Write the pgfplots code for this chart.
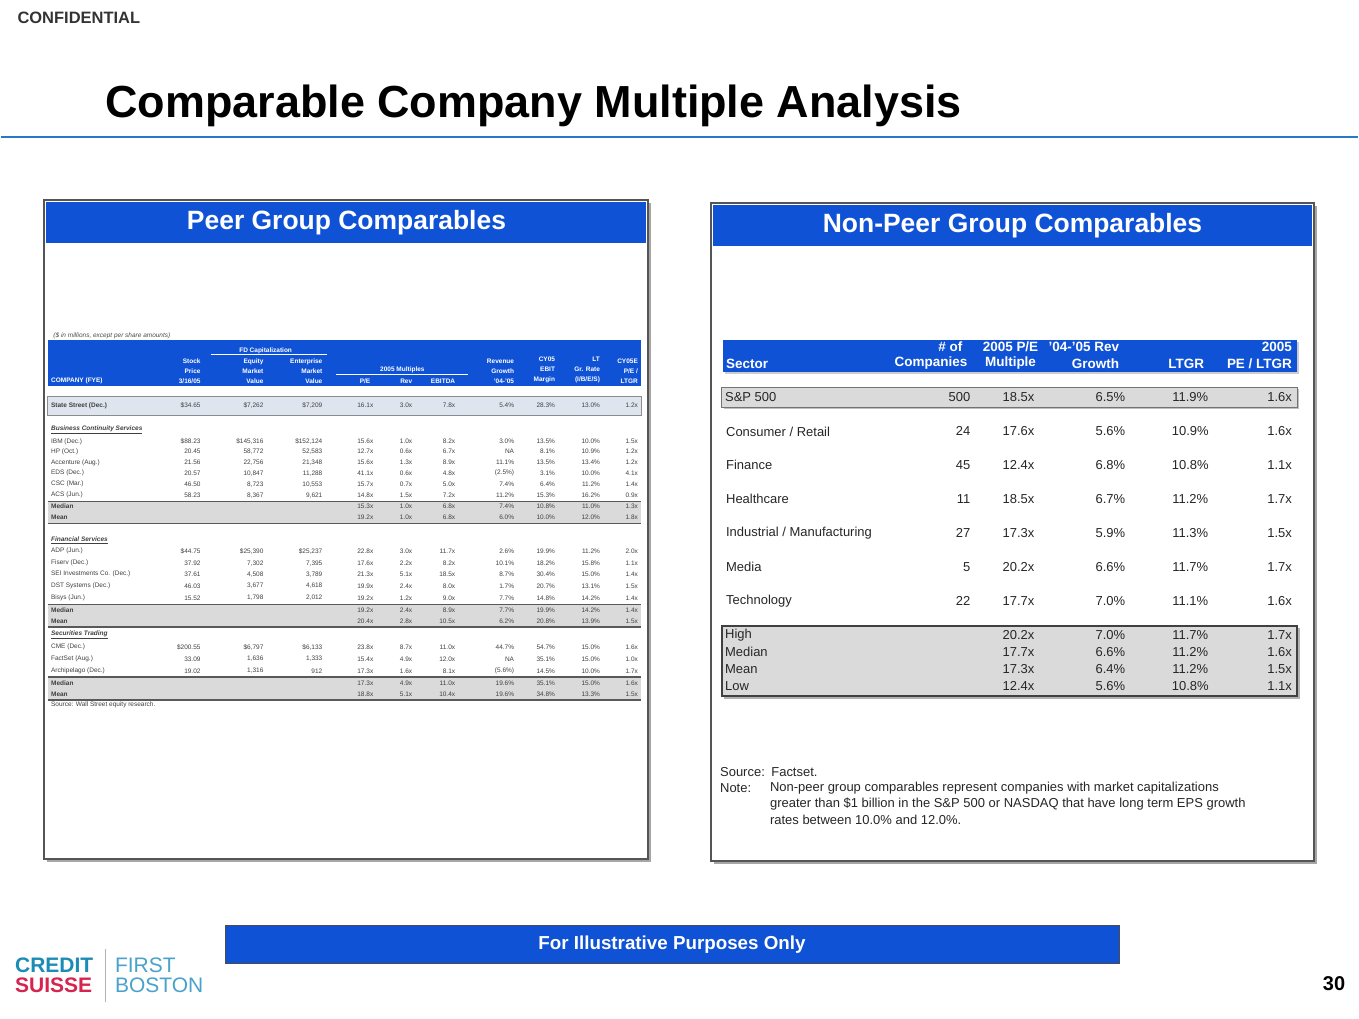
\documentclass[border=0pt]{standalone}
\usepackage{fontspec}
\setmainfont{Liberation Sans}
\usepackage{pgfplots}
\pgfplotsset{compat=1.18}
\definecolor{hdr}{RGB}{16,82,214}
\definecolor{rulec}{RGB}{40,120,200}
\definecolor{framec}{RGB}{85,85,85}
\definecolor{lgray}{RGB}{218,218,218}
\definecolor{tgt}{RGB}{222,229,238}
\definecolor{csblue}{RGB}{28,140,182}
\definecolor{csred}{RGB}{214,36,78}
\definecolor{fbblue}{RGB}{72,162,204}
\newcommand\fs[1]{\fontsize{#1}{#1}\selectfont}
\protected\def\D{\$}
\protected\def\P{\%}
\pgfplotsset{
  /pgf/number format/assume math mode=true,
  lcol/.style={draw=none, mark=none, nodes near coords={\pgfplotspointmeta}, point meta=explicit symbolic,
    every node near coord/.append style={anchor=east, inner sep=0pt, font=\fs{6.5}, text=black!75}},
  rcol/.style={draw=none, mark=none, point meta=explicit,
    every node near coord/.append style={anchor=#1, inner sep=0pt, font=\fs{13}, text=black!85}},
  fx/.style={nodes near coords={\pgfmathprintnumber[fixed,fixed zerofill,precision=1]{\pgfplotspointmeta}x}},
  fp/.style={nodes near coords={\pgfmathprintnumber[fixed,fixed zerofill,precision=1]{\pgfplotspointmeta}\%}},
  fi/.style={nodes near coords={\pgfmathprintnumber[fixed,precision=0]{\pgfplotspointmeta}}},
}
\begin{document}
\begin{tikzpicture}
\begin{axis}[x=1pt, y=1pt, xmin=0, xmax=1359, ymin=0, ymax=1020, y dir=reverse,
  hide axis, clip=false, enlargelimits=false]
% page
\fill[white] (0,0) rectangle (1359,1020);
\node[anchor=west, font=\fs{16.5}\bfseries, text=black!80] at (13,18) {CONFIDENTIAL};
\node[anchor=base west, font=\fs{45}\bfseries] at (101,118) {Comparable Company Multiple Analysis};
\draw[rulec, line width=2pt] (0,137) -- (1359,137);

% panels
\fill[black!35] (46,203) rectangle (651,863);
\filldraw[fill=white, draw=framec, line width=2pt] (43,200) rectangle (648,860);
\fill[hdr] (45,202) rectangle (646,243);
\node[font=\fs{26.5}\bfseries, text=white] at (346,223) {Peer Group Comparables};
\fill[black!35] (714,206) rectangle (1318,865);
\filldraw[fill=white, draw=framec, line width=2pt] (711,203) rectangle (1315,862);
\fill[hdr] (713,205) rectangle (1313,246);
\node[font=\fs{26.5}\bfseries, text=white] at (1013,226) {Non-Peer Group Comparables};

% ---------------- left table ----------------
\node[anchor=west, font=\fs{6.5}\itshape, text=black!70] at (49,336) {(\$ in millions, except per share amounts)};
\fill[hdr] (47,340) rectangle (641,387);
\begin{scope}[every node/.style={inner sep=0pt, font=\fontsize{6.5}{10}\selectfont\bfseries, text=white, align=right}]
\node[anchor=west] at (50,381) {COMPANY (FYE)};
\node[anchor=south east] at (200,384) {Stock\\Price\\3/16/05};
\node at (265,351) {FD Capitalization};
\node[anchor=south east] at (263,384) {Equity\\Market\\Value};
\node[anchor=south east] at (322,384) {Enterprise\\Market\\Value};
\node at (402,370) {2005 Multiples};
\node[anchor=south east] at (370,384) {P/E};
\node[anchor=south east] at (412,384) {Rev};
\node[anchor=south east] at (455,384) {EBITDA};
\node[anchor=south east] at (514,384) {Revenue\\Growth\\'04-'05};
\node[anchor=south east] at (555,384) {CY05\\EBIT\\Margin};
\node[anchor=south east] at (600,384) {LT\\Gr. Rate\\(I/B/E/S)};
\node[anchor=south east] at (638,384) {CY05E\\P/E /\\LTGR};
\end{scope}
\draw[white, line width=0.8pt] (210,355) -- (326,355);
\draw[white, line width=0.8pt] (335,375) -- (468,375);

\filldraw[fill=tgt, draw=black!45, line width=1pt] (47,397) rectangle (641,416);
\fill[lgray] (47,502) rectangle (641,524);
\draw[black!65, line width=1.2pt] (47,502) -- (641,502);
\draw[black!65, line width=1.2pt] (47,524) -- (641,524);
\fill[lgray] (47,605) rectangle (641,628);
\draw[black!65, line width=1.2pt] (47,605) -- (641,605);
\draw[black!65, line width=1.2pt] (47,628) -- (641,628);
\fill[lgray] (47,678) rectangle (641,701);
\draw[black!65, line width=1.2pt] (47,678) -- (641,678);
\draw[black!65, line width=1.2pt] (47,701) -- (641,701);
\begin{scope}[every node/.style={anchor=west, inner sep=0pt, font=\fs{6.5}, text=black!75}]
\node[font=\fs{6.5}\bfseries] at (50,406) {State Street (Dec.)};
\node[font=\fs{6.5}\bfseries\itshape] at (50,430) {\underline{Business Continuity Services}};
\node at (50,442) {IBM (Dec.)};
\node at (50,452) {HP (Oct.)};
\node at (50,463) {Accenture (Aug.)};
\node at (50,474) {EDS (Dec.)};
\node at (50,485) {CSC (Mar.)};
\node at (50,496) {ACS (Jun.)};
\node[font=\fs{6.5}\bfseries] at (50,507) {Median};
\node[font=\fs{6.5}\bfseries] at (50,518) {Mean};
\node[font=\fs{6.5}\bfseries\itshape] at (50,541) {\underline{Financial Services}};
\node at (50,552) {ADP (Jun.)};
\node at (50,564) {Fiserv (Dec.)};
\node at (50,575) {SEI Investments Co. (Dec.)};
\node at (50,587) {DST Systems (Dec.)};
\node at (50,599) {Bisys (Jun.)};
\node[font=\fs{6.5}\bfseries] at (50,611) {Median};
\node[font=\fs{6.5}\bfseries] at (50,622) {Mean};
\node[font=\fs{6.5}\bfseries\itshape] at (50,636) {\underline{Securities Trading}};
\node at (50,648) {CME (Dec.)};
\node at (50,660) {FactSet (Aug.)};
\node at (50,672) {Archipelago (Dec.)};
\node[font=\fs{6.5}\bfseries] at (50,684) {Median};
\node[font=\fs{6.5}\bfseries] at (50,695) {Mean};
\node at (50,706) {Source: Wall Street equity research.};
\end{scope}

\addplot[lcol] coordinates {(200,406)[\D34.65]
 (200,442)[\D88.23] (200,452)[20.45] (200,463)[21.56] (200,474)[20.57] (200,485)[46.50] (200,496)[58.23]
 (200,552)[\D44.75] (200,564)[37.92] (200,575)[37.61] (200,587)[46.03] (200,599)[15.52]
 (200,648)[\D200.55] (200,660)[33.09] (200,672)[19.02]};
\addplot[lcol] coordinates {(263,406)[\D7,262]
 (263,442)[\D145,316] (263,452)[58,772] (263,463)[22,756] (263,474)[10,847] (263,485)[8,723] (263,496)[8,367]
 (263,552)[\D25,390] (263,564)[7,302] (263,575)[4,508] (263,587)[3,677] (263,599)[1,798]
 (263,648)[\D6,797] (263,660)[1,636] (263,672)[1,316]};
\addplot[lcol] coordinates {(322,406)[\D7,209]
 (322,442)[\D152,124] (322,452)[52,583] (322,463)[21,348] (322,474)[11,288] (322,485)[10,553] (322,496)[9,621]
 (322,552)[\D25,237] (322,564)[7,395] (322,575)[3,789] (322,587)[4,618] (322,599)[2,012]
 (322,648)[\D6,133] (322,660)[1,333] (322,672)[912]};
\addplot[lcol] coordinates {(373,406)[16.1x]
 (373,442)[15.6x] (373,452)[12.7x] (373,463)[15.6x] (373,474)[41.1x] (373,485)[15.7x] (373,496)[14.8x] (373,507)[15.3x] (373,518)[19.2x]
 (373,552)[22.8x] (373,564)[17.6x] (373,575)[21.3x] (373,587)[19.9x] (373,599)[19.2x] (373,611)[19.2x] (373,622)[20.4x]
 (373,648)[23.8x] (373,660)[15.4x] (373,672)[17.3x] (373,684)[17.3x] (373,695)[18.8x]};
\addplot[lcol] coordinates {(412,406)[3.0x]
 (412,442)[1.0x] (412,452)[0.6x] (412,463)[1.3x] (412,474)[0.6x] (412,485)[0.7x] (412,496)[1.5x] (412,507)[1.0x] (412,518)[1.0x]
 (412,552)[3.0x] (412,564)[2.2x] (412,575)[5.1x] (412,587)[2.4x] (412,599)[1.2x] (412,611)[2.4x] (412,622)[2.8x]
 (412,648)[8.7x] (412,660)[4.9x] (412,672)[1.6x] (412,684)[4.9x] (412,695)[5.1x]};
\addplot[lcol] coordinates {(455,406)[7.8x]
 (455,442)[8.2x] (455,452)[6.7x] (455,463)[8.9x] (455,474)[4.8x] (455,485)[5.0x] (455,496)[7.2x] (455,507)[6.8x] (455,518)[6.8x]
 (455,552)[11.7x] (455,564)[8.2x] (455,575)[18.5x] (455,587)[8.0x] (455,599)[9.0x] (455,611)[8.9x] (455,622)[10.5x]
 (455,648)[11.0x] (455,660)[12.0x] (455,672)[8.1x] (455,684)[11.0x] (455,695)[10.4x]};
\addplot[lcol] coordinates {(514,406)[5.4\P]
 (514,442)[3.0\P] (514,452)[NA] (514,463)[11.1\P] (514,474)[(2.5\P)] (514,485)[7.4\P] (514,496)[11.2\P] (514,507)[7.4\P] (514,518)[6.0\P]
 (514,552)[2.6\P] (514,564)[10.1\P] (514,575)[8.7\P] (514,587)[1.7\P] (514,599)[7.7\P] (514,611)[7.7\P] (514,622)[6.2\P]
 (514,648)[44.7\P] (514,660)[NA] (514,672)[(5.6\P)] (514,684)[19.6\P] (514,695)[19.6\P]};
\addplot[lcol] coordinates {(555,406)[28.3\P]
 (555,442)[13.5\P] (555,452)[8.1\P] (555,463)[13.5\P] (555,474)[3.1\P] (555,485)[6.4\P] (555,496)[15.3\P] (555,507)[10.8\P] (555,518)[10.0\P]
 (555,552)[19.9\P] (555,564)[18.2\P] (555,575)[30.4\P] (555,587)[20.7\P] (555,599)[14.8\P] (555,611)[19.9\P] (555,622)[20.8\P]
 (555,648)[54.7\P] (555,660)[35.1\P] (555,672)[14.5\P] (555,684)[35.1\P] (555,695)[34.8\P]};
\addplot[lcol] coordinates {(600,406)[13.0\P]
 (600,442)[10.0\P] (600,452)[10.9\P] (600,463)[13.4\P] (600,474)[10.0\P] (600,485)[11.2\P] (600,496)[16.2\P] (600,507)[11.0\P] (600,518)[12.0\P]
 (600,552)[11.2\P] (600,564)[15.8\P] (600,575)[15.0\P] (600,587)[13.1\P] (600,599)[14.2\P] (600,611)[14.2\P] (600,622)[13.9\P]
 (600,648)[15.0\P] (600,660)[15.0\P] (600,672)[10.0\P] (600,684)[15.0\P] (600,695)[13.3\P]};
\addplot[lcol] coordinates {(638,406)[1.2x]
 (638,442)[1.5x] (638,452)[1.2x] (638,463)[1.2x] (638,474)[4.1x] (638,485)[1.4x] (638,496)[0.9x] (638,507)[1.3x] (638,518)[1.8x]
 (638,552)[2.0x] (638,564)[1.1x] (638,575)[1.4x] (638,587)[1.5x] (638,599)[1.4x] (638,611)[1.4x] (638,622)[1.5x]
 (638,648)[1.6x] (638,660)[1.0x] (638,672)[1.7x] (638,684)[1.6x] (638,695)[1.5x]};

% ---------------- right table ----------------
\fill[black!20] (725,342) rectangle (1300,375);
\fill[hdr] (723,340) rectangle (1298,373);
\begin{scope}[every node/.style={inner sep=0pt, font=\fs{13.5}\bfseries, text=white}]
\node[anchor=west] at (726,364) {Sector};
\node[anchor=east] at (963,347) {\# of};
\node[anchor=east] at (968,364) {Companies};
\node at (1011,347) {2005 P/E};
\node at (1011,364) {Multiple};
\node[anchor=east] at (1120,347) {'04-'05 Rev};
\node[anchor=east] at (1120,364) {Growth};
\node at (1187,364) {LTGR};
\node[anchor=east] at (1293,347) {2005};
\node[anchor=east] at (1293,364) {PE / LTGR};
\end{scope}
\fill[black!25] (724,390) rectangle (1300,410);
\filldraw[fill=lgray, draw=black!55, line width=1pt] (722,388) rectangle (1298,408);
\fill[black!30] (724,629) rectangle (1301,700);
\filldraw[fill=lgray, draw=black!75, line width=1.8pt] (722,627) rectangle (1298,697);
\begin{scope}[every node/.style={anchor=west, inner sep=0pt, font=\fs{13}, text=black!85}]
\node at (725,398) {S\&P 500};
\node at (726,432) {Consumer / Retail};
\node at (726,466) {Finance};
\node at (726,500) {Healthcare};
\node at (726,534) {Industrial / Manufacturing};
\node at (726,568) {Media};
\node at (726,602) {Technology};
\node at (725,636) {High};
\node at (725,653) {Median};
\node at (725,670) {Mean};
\node at (725,687) {Low};
\end{scope}
\addplot[rcol=east, fi] coordinates {(971,398)[500] (971,432)[24] (971,466)[45] (971,500)[11] (971,534)[27] (971,568)[5] (971,602)[22]};
\addplot[rcol=center, fx] coordinates {(1019,398)[18.5] (1019,432)[17.6] (1019,466)[12.4] (1019,500)[18.5] (1019,534)[17.3] (1019,568)[20.2] (1019,602)[17.7]
 (1019,636)[20.2] (1019,653)[17.7] (1019,670)[17.3] (1019,687)[12.4]};
\addplot[rcol=east, fp] coordinates {(1126,398)[6.5] (1126,432)[5.6] (1126,466)[6.8] (1126,500)[6.7] (1126,534)[5.9] (1126,568)[6.6] (1126,602)[7.0]
 (1126,636)[7.0] (1126,653)[6.6] (1126,670)[6.4] (1126,687)[5.6]};
\addplot[rcol=center, fp] coordinates {(1191,398)[11.9] (1191,432)[10.9] (1191,466)[10.8] (1191,500)[11.2] (1191,534)[11.3] (1191,568)[11.7] (1191,602)[11.1]
 (1191,636)[11.7] (1191,653)[11.2] (1191,670)[11.2] (1191,687)[10.8]};
\addplot[rcol=east, fx] coordinates {(1293,398)[1.6] (1293,432)[1.6] (1293,466)[1.1] (1293,500)[1.7] (1293,534)[1.5] (1293,568)[1.7] (1293,602)[1.6]
 (1293,636)[1.7] (1293,653)[1.6] (1293,670)[1.5] (1293,687)[1.1]};

\begin{scope}[every node/.style={anchor=west, inner sep=0pt, font=\fs{13}, text=black!85}]
\node at (720,773) {Source:\enspace Factset.};
\node at (720,789) {Note:};
\node at (770,789) {Non-peer group comparables represent companies with market capitalizations};
\node at (770,805) {greater than \$1 billion in the S\&P 500 or NASDAQ that have long term EPS growth};
\node at (770,821) {rates between 10.0\% and 12.0\%.};
\end{scope}

% banner, logo, page number
\filldraw[fill=hdr, draw=black!70, line width=1.5pt] (225,927) rectangle (1120,965);
\node[font=\fs{18.8}\bfseries, text=white] at (672,946) {For Illustrative Purposes Only};
\node[anchor=west, inner sep=0pt, font=\fs{21}\bfseries, text=csblue] at (14,967) {CREDIT};
\node[anchor=west, inner sep=0pt, font=\fs{21}\bfseries, text=csred] at (14,987) {SUISSE};
\draw[black!30, line width=1pt] (105,950) -- (105,1003);
\node[anchor=west, inner sep=0pt, font=\fs{21}, text=fbblue] at (114,967) {FIRST};
\node[anchor=west, inner sep=0pt, font=\fs{21}, text=fbblue] at (114,987) {BOSTON};
\node[font=\fs{20}\bfseries] at (1335,985) {30};
\end{axis}
\end{tikzpicture}
\end{document}
